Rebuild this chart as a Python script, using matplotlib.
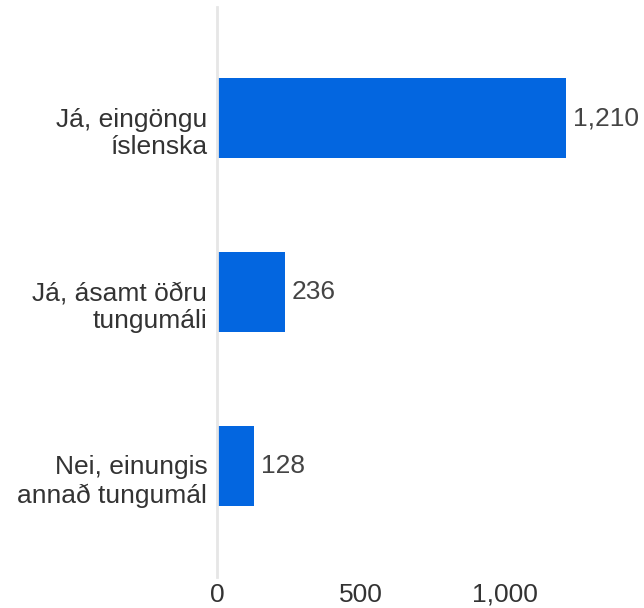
import matplotlib.pyplot as plt
import matplotlib.transforms as mtransforms

plt.rcParams['font.family'] = ['Liberation Sans', 'DejaVu Sans']

categories = ['Já, eingöngu\níslenska', 'Já, ásamt öðru\ntungumáli', 'Nei, einungis\nannað tungumál']
values = [1210, 236, 128]
xticks = [0, 500, 1000]
xtick_labels = ['0', '500', '1,000']

fig = plt.figure(figsize=(6.44, 6.08), dpi=100)
ax = fig.add_axes([217 / 644, 31 / 608, 421 / 644, 570 / 608])

ypos = list(range(len(categories)))
ax.barh(ypos, values, height=0.46, color='#0366e0', zorder=2)

for y, v in zip(ypos, values):
    ax.annotate(f'{v:,}', xy=(v, y), xytext=(7, 0), textcoords='offset pixels',
                va='center', ha='left', fontsize=19, color='#444444')

ax.set_xlim(0, 1460)
ax.set_ylim(len(categories) - 1 + 0.638, -0.638)
ax.set_yticks(ypos)
ax.set_yticklabels(categories, fontsize=19, color='#333333', linespacing=1.2)
ax.set_xticks(xticks)
ax.set_xticklabels(xtick_labels, fontsize=19, color='#333333')
ax.tick_params(axis='both', length=0)
ax.tick_params(axis='y', pad=7)
ax.tick_params(axis='x', pad=4)

# first line of each label sits level with the bar centre
shift = mtransforms.ScaledTranslation(0, -0.11, fig.dpi_scale_trans)
for lbl in ax.get_yticklabels():
    lbl.set_transform(lbl.get_transform() + shift)

for s in ['top', 'right', 'bottom']:
    ax.spines[s].set_visible(False)
ax.spines['left'].set_color('#e6e6e6')
ax.spines['left'].set_linewidth(2)

fig.savefig('out.png', dpi=100)
